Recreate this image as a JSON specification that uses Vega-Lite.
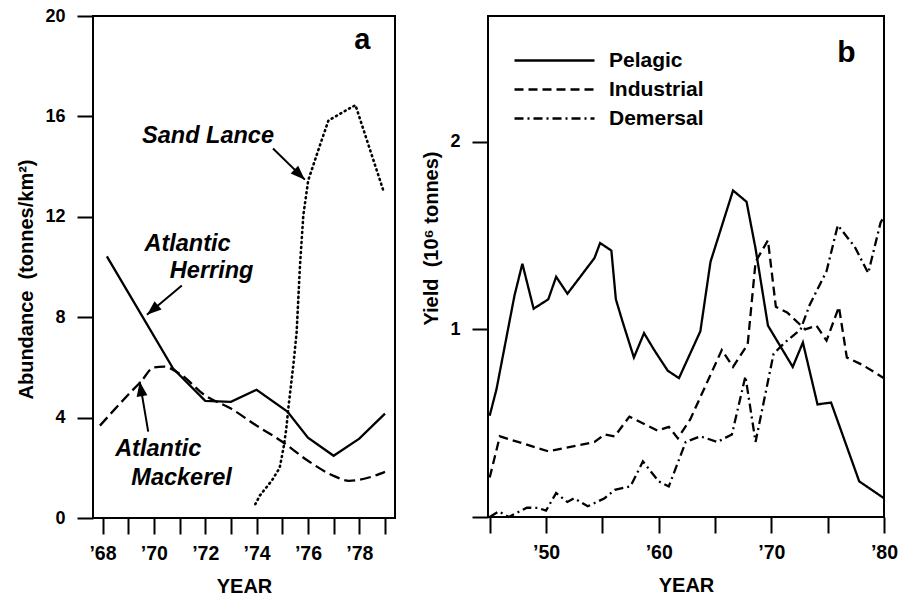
{
  "$schema": "https://vega.github.io/schema/vega-lite/v6.json",
  "background": "white",
  "padding": {"left": 15, "top": 6, "right": 10, "bottom": 0},
  "spacing": 24,
  "config": {
    "font": "Liberation Sans",
    "view": {"stroke": "black", "strokeWidth": 2},
    "axis": {"grid": false, "domain": false, "tickColor": "black", "tickWidth": 2, "tickSize": 16,
      "labelFont": "Liberation Sans", "labelFontWeight": "bold", "labelColor": "black", "labelFontSize": 18,
      "titleFont": "Liberation Sans", "titleFontWeight": "bold", "titleFontSize": 20, "titleColor": "black"},
    "text": {"font": "Liberation Sans", "color": "black"}
  },
  "datasets": {
    "abundance": [
      {"species": "Atlantic Herring", "year": 1968.17, "value": 10.42},
      {"species": "Atlantic Herring", "year": 1970.75, "value": 5.95},
      {"species": "Atlantic Herring", "year": 1972.0, "value": 4.67},
      {"species": "Atlantic Herring", "year": 1973.0, "value": 4.63},
      {"species": "Atlantic Herring", "year": 1974.0, "value": 5.11},
      {"species": "Atlantic Herring", "year": 1975.2, "value": 4.24},
      {"species": "Atlantic Herring", "year": 1976.0, "value": 3.2},
      {"species": "Atlantic Herring", "year": 1977.0, "value": 2.48},
      {"species": "Atlantic Herring", "year": 1978.0, "value": 3.16},
      {"species": "Atlantic Herring", "year": 1979.0, "value": 4.16},
      {"species": "Atlantic Mackerel", "year": 1967.9, "value": 3.68},
      {"species": "Atlantic Mackerel", "year": 1969.0, "value": 4.91},
      {"species": "Atlantic Mackerel", "year": 1969.5, "value": 5.44},
      {"species": "Atlantic Mackerel", "year": 1970.0, "value": 6.0},
      {"species": "Atlantic Mackerel", "year": 1970.4, "value": 6.03},
      {"species": "Atlantic Mackerel", "year": 1971.0, "value": 5.75},
      {"species": "Atlantic Mackerel", "year": 1972.0, "value": 4.88},
      {"species": "Atlantic Mackerel", "year": 1973.0, "value": 4.36},
      {"species": "Atlantic Mackerel", "year": 1974.0, "value": 3.68},
      {"species": "Atlantic Mackerel", "year": 1975.0, "value": 3.04},
      {"species": "Atlantic Mackerel", "year": 1976.0, "value": 2.28},
      {"species": "Atlantic Mackerel", "year": 1977.0, "value": 1.68},
      {"species": "Atlantic Mackerel", "year": 1977.6, "value": 1.48},
      {"species": "Atlantic Mackerel", "year": 1978.0, "value": 1.52},
      {"species": "Atlantic Mackerel", "year": 1979.0, "value": 1.84},
      {"species": "Sand Lance", "year": 1973.95, "value": 0.55},
      {"species": "Sand Lance", "year": 1974.13, "value": 0.9},
      {"species": "Sand Lance", "year": 1974.6, "value": 1.5},
      {"species": "Sand Lance", "year": 1974.9, "value": 2.0},
      {"species": "Sand Lance", "year": 1975.05, "value": 2.8},
      {"species": "Sand Lance", "year": 1975.15, "value": 3.5},
      {"species": "Sand Lance", "year": 1975.25, "value": 4.5},
      {"species": "Sand Lance", "year": 1975.43, "value": 6.08},
      {"species": "Sand Lance", "year": 1975.56, "value": 7.41},
      {"species": "Sand Lance", "year": 1975.69, "value": 10.06},
      {"species": "Sand Lance", "year": 1975.82, "value": 12.06},
      {"species": "Sand Lance", "year": 1976.01, "value": 13.45},
      {"species": "Sand Lance", "year": 1976.45, "value": 14.8},
      {"species": "Sand Lance", "year": 1976.8, "value": 15.84},
      {"species": "Sand Lance", "year": 1977.85, "value": 16.45},
      {"species": "Sand Lance", "year": 1978.95, "value": 13.0}
    ],
    "notesA": [
      {"year": 1972.11, "value": 14.95, "label": "Sand Lance"},
      {"year": 1971.31, "value": 10.65, "label": "Atlantic"},
      {"year": 1972.25, "value": 9.55, "label": "Herring"},
      {"year": 1970.17, "value": 2.49, "label": "Atlantic"},
      {"year": 1971.08, "value": 1.3, "label": "Mackerel"}
    ],
    "panelA": [{"year": 1978.12, "value": 18.7, "label": "a"}],
    "panelB": [{"year": 1976.67, "value": 2.427, "label": "b"}],
    "arrowsA": [
      {"target": "Sand Lance", "year": 1974.64, "value": 14.72, "year2": 1975.88, "value2": 13.48},
      {"target": "Atlantic Herring", "year": 1971.09, "value": 9.26, "year2": 1969.73, "value2": 8.1},
      {"target": "Atlantic Mackerel", "year": 1969.78, "value": 3.44, "year2": 1969.45, "value2": 5.43}
    ],
    "yield": [
      {"type": "Pelagic", "year": 1945.0, "value": 0.54},
      {"type": "Pelagic", "year": 1945.6, "value": 0.68},
      {"type": "Pelagic", "year": 1947.2, "value": 1.18},
      {"type": "Pelagic", "year": 1947.9, "value": 1.35},
      {"type": "Pelagic", "year": 1948.9, "value": 1.11},
      {"type": "Pelagic", "year": 1950.2, "value": 1.16},
      {"type": "Pelagic", "year": 1950.9, "value": 1.28},
      {"type": "Pelagic", "year": 1951.9, "value": 1.19},
      {"type": "Pelagic", "year": 1954.3, "value": 1.38},
      {"type": "Pelagic", "year": 1954.8, "value": 1.46},
      {"type": "Pelagic", "year": 1955.8, "value": 1.42},
      {"type": "Pelagic", "year": 1956.2, "value": 1.16},
      {"type": "Pelagic", "year": 1956.8, "value": 1.04},
      {"type": "Pelagic", "year": 1957.8, "value": 0.85},
      {"type": "Pelagic", "year": 1958.7, "value": 0.98},
      {"type": "Pelagic", "year": 1959.6, "value": 0.89},
      {"type": "Pelagic", "year": 1960.8, "value": 0.78},
      {"type": "Pelagic", "year": 1961.8, "value": 0.74},
      {"type": "Pelagic", "year": 1963.7, "value": 0.99},
      {"type": "Pelagic", "year": 1964.6, "value": 1.36},
      {"type": "Pelagic", "year": 1966.6, "value": 1.74},
      {"type": "Pelagic", "year": 1967.8, "value": 1.68},
      {"type": "Pelagic", "year": 1968.6, "value": 1.43},
      {"type": "Pelagic", "year": 1969.7, "value": 1.02},
      {"type": "Pelagic", "year": 1971.9, "value": 0.80},
      {"type": "Pelagic", "year": 1972.8, "value": 0.93},
      {"type": "Pelagic", "year": 1974.1, "value": 0.60},
      {"type": "Pelagic", "year": 1975.3, "value": 0.61},
      {"type": "Pelagic", "year": 1977.8, "value": 0.19},
      {"type": "Pelagic", "year": 1980.0, "value": 0.10},
      {"type": "Industrial", "year": 1945.0, "value": 0.21},
      {"type": "Industrial", "year": 1945.9, "value": 0.43},
      {"type": "Industrial", "year": 1950.2, "value": 0.35},
      {"type": "Industrial", "year": 1954.3, "value": 0.40},
      {"type": "Industrial", "year": 1955.2, "value": 0.44},
      {"type": "Industrial", "year": 1956.1, "value": 0.43},
      {"type": "Industrial", "year": 1957.4, "value": 0.535},
      {"type": "Industrial", "year": 1959.9, "value": 0.46},
      {"type": "Industrial", "year": 1960.9, "value": 0.48},
      {"type": "Industrial", "year": 1961.7, "value": 0.42},
      {"type": "Industrial", "year": 1962.8, "value": 0.52},
      {"type": "Industrial", "year": 1965.6, "value": 0.89},
      {"type": "Industrial", "year": 1966.6, "value": 0.80},
      {"type": "Industrial", "year": 1967.9, "value": 0.92},
      {"type": "Industrial", "year": 1968.6, "value": 1.36},
      {"type": "Industrial", "year": 1969.7, "value": 1.475},
      {"type": "Industrial", "year": 1970.4, "value": 1.12},
      {"type": "Industrial", "year": 1971.4, "value": 1.09},
      {"type": "Industrial", "year": 1973.0, "value": 1.0},
      {"type": "Industrial", "year": 1974.0, "value": 1.02},
      {"type": "Industrial", "year": 1974.9, "value": 0.94},
      {"type": "Industrial", "year": 1976.0, "value": 1.12},
      {"type": "Industrial", "year": 1976.7, "value": 0.85},
      {"type": "Industrial", "year": 1978.1, "value": 0.81},
      {"type": "Industrial", "year": 1980.0, "value": 0.74},
      {"type": "Demersal", "year": 1945.0, "value": 0.0},
      {"type": "Demersal", "year": 1945.8, "value": 0.03},
      {"type": "Demersal", "year": 1946.7, "value": 0.0},
      {"type": "Demersal", "year": 1948.3, "value": 0.05},
      {"type": "Demersal", "year": 1949.3, "value": 0.048},
      {"type": "Demersal", "year": 1950.0, "value": 0.034},
      {"type": "Demersal", "year": 1950.9, "value": 0.128},
      {"type": "Demersal", "year": 1951.9, "value": 0.08},
      {"type": "Demersal", "year": 1952.5, "value": 0.10},
      {"type": "Demersal", "year": 1953.7, "value": 0.057},
      {"type": "Demersal", "year": 1955.2, "value": 0.10},
      {"type": "Demersal", "year": 1956.1, "value": 0.145},
      {"type": "Demersal", "year": 1957.5, "value": 0.163},
      {"type": "Demersal", "year": 1958.6, "value": 0.296},
      {"type": "Demersal", "year": 1960.0, "value": 0.19},
      {"type": "Demersal", "year": 1960.9, "value": 0.163},
      {"type": "Demersal", "year": 1962.4, "value": 0.40},
      {"type": "Demersal", "year": 1963.7, "value": 0.43},
      {"type": "Demersal", "year": 1965.2, "value": 0.40},
      {"type": "Demersal", "year": 1966.5, "value": 0.44},
      {"type": "Demersal", "year": 1967.7, "value": 0.75},
      {"type": "Demersal", "year": 1968.6, "value": 0.40},
      {"type": "Demersal", "year": 1970.2, "value": 0.87},
      {"type": "Demersal", "year": 1971.2, "value": 0.93},
      {"type": "Demersal", "year": 1972.6, "value": 1.0},
      {"type": "Demersal", "year": 1973.4, "value": 1.13},
      {"type": "Demersal", "year": 1974.9, "value": 1.31},
      {"type": "Demersal", "year": 1975.9, "value": 1.555},
      {"type": "Demersal", "year": 1977.4, "value": 1.44},
      {"type": "Demersal", "year": 1978.6, "value": 1.30},
      {"type": "Demersal", "year": 1979.7, "value": 1.57},
      {"type": "Demersal", "year": 1980.0, "value": 1.6}
    ]
  },
  "hconcat": [
    {
      "width": 302,
      "height": 502,
      "encoding": {
        "x": {"field": "year", "type": "quantitative",
          "scale": {"domain": [1967.63, 1979.39], "nice": false, "zero": false},
          "axis": {"title": "YEAR", "values": [1968, 1969, 1970, 1971, 1972, 1973, 1974, 1975, 1976, 1977, 1978, 1979],
            "labelExpr": "datum.value % 2 == 0 ? '\u2019' + substring(toString(datum.value), 2, 4) : ''",
            "labelFontSize": 19.5, "labelPadding": 10, "titlePadding": 14, "labelFlush": false, "labelOverlap": false}},
        "y": {"field": "value", "type": "quantitative",
          "scale": {"domain": [0, 20], "nice": false},
          "axis": {"title": "Abundance\u00a0\u00a0(tonnes/km\u00b2)", "values": [0, 4, 8, 12, 16, 20], "labelPadding": 12, "titlePadding": 8, "titleY": 263}}
      },
      "layer": [
        {"data": {"name": "abundance"}, "transform": [{"filter": "datum.species == 'Atlantic Herring'"}],
          "mark": {"type": "line", "color": "black", "strokeWidth": 2.3}},
        {"data": {"name": "abundance"}, "transform": [{"filter": "datum.species == 'Atlantic Mackerel'"}],
          "mark": {"type": "line", "color": "black", "strokeWidth": 2.3, "strokeDash": [11, 5], "interpolate": "monotone"}},
        {"data": {"name": "abundance"}, "transform": [{"filter": "datum.species == 'Sand Lance'"}],
          "mark": {"type": "line", "color": "black", "strokeWidth": 2.6, "strokeDash": [1, 4], "strokeCap": "round"}},
        {"data": {"name": "arrowsA"}, "mark": {"type": "rule", "color": "black", "strokeWidth": 2},
          "encoding": {"x2": {"field": "year2"}, "y2": {"field": "value2"}}},
        {"data": {"name": "arrowsA"}, "transform": [{"filter": "datum.target == 'Sand Lance'"}],
          "mark": {"type": "point", "shape": "M0,0L0.6,1.6L-0.6,1.6Z", "filled": true, "color": "black", "opacity": 1, "size": 330, "angle": 134},
          "encoding": {"x": {"field": "year2", "type": "quantitative"}, "y": {"field": "value2", "type": "quantitative"}}},
        {"data": {"name": "arrowsA"}, "transform": [{"filter": "datum.target == 'Atlantic Herring'"}],
          "mark": {"type": "point", "shape": "M0,0L0.6,1.6L-0.6,1.6Z", "filled": true, "color": "black", "opacity": 1, "size": 330, "angle": 230},
          "encoding": {"x": {"field": "year2", "type": "quantitative"}, "y": {"field": "value2", "type": "quantitative"}}},
        {"data": {"name": "arrowsA"}, "transform": [{"filter": "datum.target == 'Atlantic Mackerel'"}],
          "mark": {"type": "point", "shape": "M0,0L0.6,1.6L-0.6,1.6Z", "filled": true, "color": "black", "opacity": 1, "size": 330, "angle": 351},
          "encoding": {"x": {"field": "year2", "type": "quantitative"}, "y": {"field": "value2", "type": "quantitative"}}},
        {"data": {"name": "notesA"}, "mark": {"type": "text", "fontSize": 23.5, "fontWeight": "bold", "fontStyle": "italic", "align": "center", "baseline": "alphabetic", "color": "black"},
          "encoding": {"text": {"field": "label"}}},
        {"data": {"name": "panelA"}, "mark": {"type": "text", "fontSize": 29, "fontWeight": "bold", "align": "center", "baseline": "alphabetic", "color": "black"},
          "encoding": {"text": {"field": "label"}}}
      ]
    },
    {
      "width": 396,
      "height": 501,
      "encoding": {
        "x": {"field": "year", "type": "quantitative",
          "scale": {"domain": [1944.85, 1980], "nice": false, "zero": false},
          "axis": {"title": "YEAR", "values": [1945, 1950, 1955, 1960, 1965, 1970, 1975, 1980],
            "labelExpr": "datum.value % 10 == 0 ? '\u2019' + substring(toString(datum.value), 2, 4) : ''",
            "labelFontSize": 19.5, "labelPadding": 10, "titlePadding": 14, "labelFlush": false, "labelOverlap": false}},
        "y": {"field": "value", "type": "quantitative",
          "scale": {"domain": [0, 2.67], "nice": false},
          "axis": {"title": "Yield\u00a0\u00a0(10\u2076 tonnes)", "values": [0, 1, 2], "labelExpr": "datum.value == 0 ? '' : datum.label", "labelPadding": 12, "titlePadding": 8, "titleY": 222}}
      },
      "layer": [
        {"data": {"name": "yield"}, "mark": {"type": "line", "color": "black", "strokeWidth": 2.3},
          "encoding": {
            "strokeDash": {"field": "type", "type": "nominal",
              "scale": {"domain": ["Pelagic", "Industrial", "Demersal"], "range": [[1, 0], [9, 5], [9, 4, 2, 4]]},
              "legend": {"title": null, "orient": "none", "legendX": 444, "legendY": 27, "symbolType": "M-2.5,0L2.5,0", "symbolSize": 1024,
                "symbolStrokeWidth": 2.3, "symbolStrokeColor": "black", "labelFont": "Liberation Sans", "labelFontWeight": "bold",
                "labelFontSize": 21, "labelColor": "black", "labelOffset": 37, "rowPadding": 1, "padding": 0}}
          }},
        {"data": {"name": "panelB"}, "mark": {"type": "text", "fontSize": 30, "fontWeight": "bold", "align": "center", "baseline": "alphabetic", "color": "black"},
          "encoding": {"text": {"field": "label"}}}
      ]
    }
  ]
}
